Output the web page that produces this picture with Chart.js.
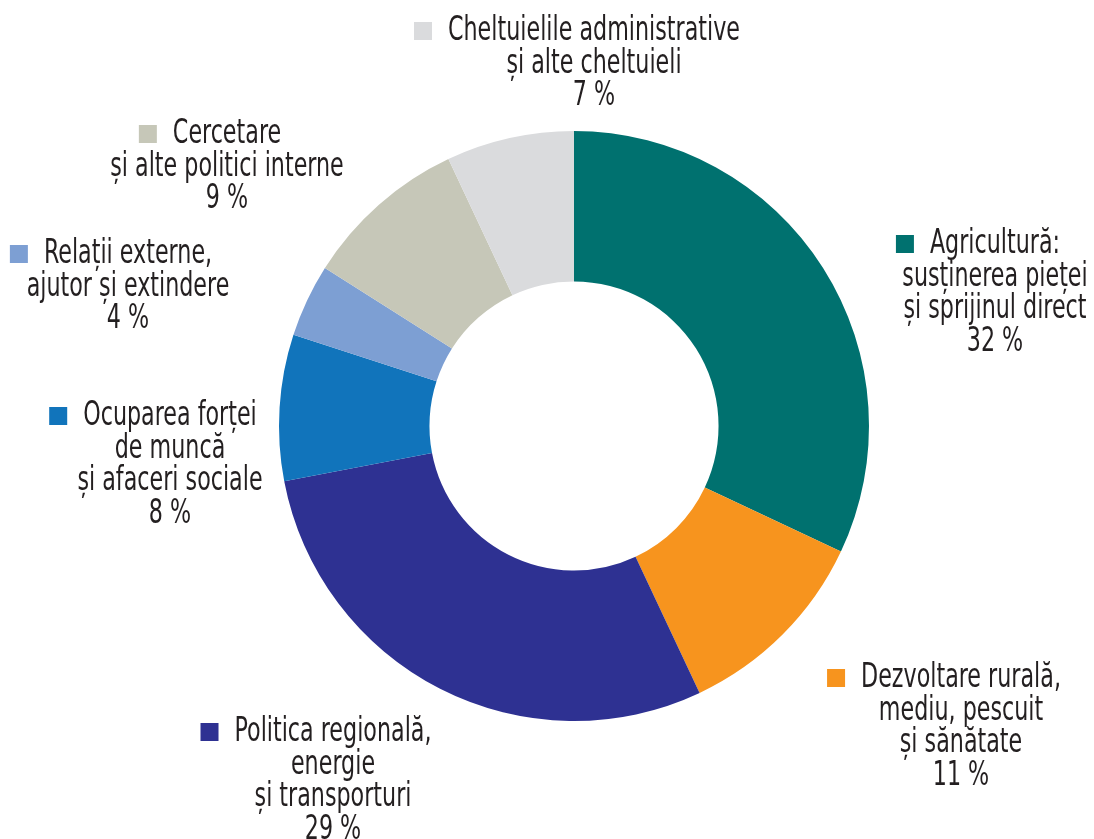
<!DOCTYPE html>
<html>
<head>
<meta charset="utf-8">
<script src="https://cdn.jsdelivr.net/npm/chart.js@4/dist/chart.umd.min.js"></script>
<style>
  html, body { margin: 0; padding: 0; background: #fff; }
  #wrap { width: 1094px; height: 839px; position: relative; }
</style>
</head>
<body>
<div id="wrap"><canvas id="budgetChart" width="1094" height="839"></canvas></div>
<script>
// slices, clockwise from 12 o'clock
const categories = [
  "Agricultură: susținerea pieței și sprijinul direct",
  "Dezvoltare rurală, mediu, pescuit și sănătate",
  "Politica regională, energie și transporturi",
  "Ocuparea forței de muncă și afaceri sociale",
  "Relații externe, ajutor și extindere",
  "Cercetare și alte politici interne",
  "Cheltuielile administrative și alte cheltuieli"
];
const shares = [32, 11, 29, 8, 4, 9, 7];
const colors = ["#00716f", "#f7941e", "#2e3192", "#1174bb", "#7d9fd3", "#c6c7b8", "#dadbdd"];

// label text split into lines (last line = percentage)
const labelLines = [
  ["Agricultură:", "susținerea pieței", "și sprijinul direct"],
  ["Dezvoltare rurală,", "mediu, pescuit", "și sănătate"],
  ["Politica regională,", "energie", "și transporturi"],
  ["Ocuparea forței", "de muncă", "și afaceri sociale"],
  ["Relații externe,", "ajutor și extindere"],
  ["Cercetare", "și alte politici interne"],
  ["Cheltuielile administrative", "și alte cheltuieli"]
];
// where each label block sits: centre x of text, baseline of first line
const labelPos = [
  { x: 995, y: 253 },
  { x: 961, y: 687 },
  { x: 333, y: 741 },
  { x: 170, y: 425 },
  { x: 128, y: 263 },
  { x: 227, y: 143 },
  { x: 594, y: 40 }
];

const FONT = "34px 'Liberation Sans Narrow', 'DejaVu Sans Condensed', 'Arial Narrow', sans-serif";
const LINE_H = 32.5;

const calloutLabels = {
  id: "calloutLabels",
  afterDraw(chart) {
    const ctx = chart.ctx;
    ctx.save();
    ctx.font = FONT;
    ctx.textAlign = "center";
    ctx.textBaseline = "alphabetic";
    // squeeze the text to the condensed width of the original face
    const sx = 292 / ctx.measureText("Cheltuielile administrative").width;
    labelLines.forEach((lines, i) => {
      const p = labelPos[i];
      const all = lines.concat([shares[i] + " %"]);
      ctx.fillStyle = "#231f20";
      all.forEach((t, j) => {
        ctx.save();
        ctx.translate(p.x, p.y + j * LINE_H);
        ctx.scale(sx, 1);
        ctx.fillText(t, 0, 0);
        ctx.restore();
      });
      // colour square before the first line
      const w = ctx.measureText(lines[0]).width * sx;
      ctx.fillStyle = colors[i];
      ctx.fillRect(p.x - w / 2 - 34, p.y - 18, 18, 18);
    });
    ctx.restore();
  }
};

new Chart(document.getElementById("budgetChart"), {
  type: "doughnut",
  data: {
    labels: categories,
    datasets: [{
      data: shares,
      backgroundColor: colors,
      borderWidth: 0
    }]
  },
  options: {
    responsive: false,
    animation: false,
    cutout: "49%",
    layout: { padding: { left: 279, right: 225, top: 131, bottom: 118 } },
    plugins: {
      legend: { display: false },
      tooltip: { enabled: false }
    }
  },
  plugins: [calloutLabels]
});
</script>
</body>
</html>
